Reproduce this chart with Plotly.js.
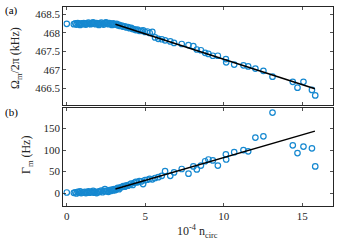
<!DOCTYPE html>
<html>
<head>
<meta charset="utf-8">
<script src="https://cdn.plot.ly/plotly-3.0.1.min.js"></script>
<style>html,body{margin:0;padding:0;background:#fff;}#plot{width:339px;height:248px;}</style>
</head>
<body>
<div id="plot"></div>
<script>
// n_circ (x 10^-4)
const nCirc = [0, 0.45, 0.55, 0.62, 0.7, 0.78, 0.85, 0.92, 1.0, 1.08, 1.15, 1.22, 1.3, 1.38, 1.45, 1.52, 1.6, 1.68, 1.75, 1.83, 1.9, 1.98, 2.05, 2.12, 2.2, 2.28, 2.35, 2.43, 2.5, 2.58, 2.65, 2.72, 2.8, 2.88, 2.95, 3.02, 3.1, 3.18, 3.25, 3.33, 3.4, 3.5, 3.6, 3.7, 3.8, 3.9, 4.0, 4.1, 4.2, 4.3, 4.4, 4.5, 4.62, 4.74, 4.86, 4.98, 5.13, 5.28, 5.45, 5.62, 5.83, 6.05, 6.26, 6.59, 6.83, 7.32, 7.75, 8.06, 8.28, 8.54, 8.81, 9.02, 9.30, 9.62, 10.13, 10.15, 10.66, 11.25, 11.55, 12.01, 12.52, 13.10, 14.39, 14.69, 15.07, 15.61, 15.82];
// Omega_m / 2pi (kHz)
const omega = [468.25, 468.24, 468.26, 468.23, 468.27, 468.25, 468.22, 468.26, 468.24, 468.27, 468.25, 468.23, 468.26, 468.28, 468.25, 468.24, 468.27, 468.29, 468.26, 468.24, 468.27, 468.25, 468.22, 468.26, 468.28, 468.25, 468.23, 468.27, 468.29, 468.26, 468.24, 468.27, 468.25, 468.22, 468.26, 468.24, 468.23, 468.25, 468.21, 468.22, 468.19, 468.20, 468.17, 468.18, 468.15, 468.16, 468.13, 468.14, 468.11, 468.10, 468.08, 468.09, 468.06, 468.06, 468.07, 468.03, 468.04, 468.00, 468.03, 467.88, 467.84, 467.83, 467.80, 467.77, 467.73, 467.70, 467.67, 467.64, 467.55, 467.53, 467.46, 467.43, 467.38, 467.38, 467.29, 467.20, 467.14, 467.12, 467.09, 467.03, 466.97, 466.81, 466.67, 466.51, 466.67, 466.45, 466.30];
// Gamma_m (Hz)
const gamma = [1.4, 0.5, 2, -1, 3, 1, 4, 0, 2, 1, 3, 0, 2, 4, 1, 3, 2, 5, 1, 3, 0, 2, 4, 3, 6, 2, 5, 9, 4, 6, 3, 7, 5, 8, 6, 9, 7, 10, 12, 9, 13, 14, 16, 15, 18, 17, 20, 22, 19, 24, 26, 25, 28, 27, 21, 30, 31, 33, 32, 35, 37, 40, 51, 40, 48, 56, 45, 62, 55, 64, 74, 78, 76, 64, 90, 78, 95, 100, 97, 129, 132, 187, 111, 93, 108, 104, 62];
// linear fits
const fitX = [3.1, 15.8];
const fitOmega = [468.24, 466.48];
const fitGamma = [9.5, 144];

const blue = '#1588D0';
const marker = {symbol: 'circle-open', size: 5.5, color: blue, line: {width: 1.2, color: blue}};
const traces = [
  {x: nCirc, y: omega, type: 'scatter', mode: 'markers', marker: marker, xaxis: 'x', yaxis: 'y', hoverinfo: 'none'},
  {x: fitX, y: fitOmega, type: 'scatter', mode: 'lines', line: {color: '#000', width: 1.5}, xaxis: 'x', yaxis: 'y'},
  {x: nCirc, y: gamma, type: 'scatter', mode: 'markers', marker: marker, xaxis: 'x2', yaxis: 'y2', hoverinfo: 'none'},
  {x: fitX, y: fitGamma, type: 'scatter', mode: 'lines', line: {color: '#000', width: 1.5}, xaxis: 'x2', yaxis: 'y2'}
];
const W = 339, H = 248;
const fam = 'Liberation Serif, Times New Roman, serif';
const axBase = {showline: true, mirror: 'ticks', ticks: 'inside', ticklen: 3, tickwidth: 0.8, tickcolor: '#262626', linecolor: '#262626', linewidth: 1, showgrid: false, zeroline: false, tickfont: {family: fam, size: 11, color: '#262626'}};
const xd = [63.3 / W, 333.3 / W];
const layout = {
  width: W, height: H, margin: {l: 0, r: 0, t: 0, b: 0}, showlegend: false,
  paper_bgcolor: '#fff', plot_bgcolor: '#fff',
  font: {family: fam, size: 11, color: '#262626'},
  xaxis: Object.assign({}, axBase, {domain: xd, range: [-0.22, 16.97], tickvals: [0, 5, 10, 15], showticklabels: false, anchor: 'y'}),
  yaxis: Object.assign({}, axBase, {domain: [1 - 105.3 / H, 1 - 7.3 / H], range: [466.03, 468.7], tickvals: [466.5, 467, 467.5, 468, 468.5], ticktext: ['466.5', '467', '467.5', '468', '468.5'], anchor: 'x'}),
  xaxis2: Object.assign({}, axBase, {domain: xd, range: [-0.22, 16.97], tickvals: [0, 5, 10, 15], anchor: 'y2'}),
  yaxis2: Object.assign({}, axBase, {domain: [1 - 206 / H, 1 - 108.3 / H], range: [-30, 197], tickvals: [0, 50, 100, 150], anchor: 'x2'}),
  annotations: [
    {text: '(a)', xref: 'paper', yref: 'paper', x: 3 / W, y: 1 - 11 / H, xanchor: 'left', yanchor: 'middle', showarrow: false, font: {family: fam, size: 11, color: '#000'}},
    {text: '(b)', xref: 'paper', yref: 'paper', x: 3 / W, y: 1 - 112 / H, xanchor: 'left', yanchor: 'middle', showarrow: false, font: {family: fam, size: 11, color: '#000'}},
    {text: 'Ω<sub>m</sub>/2π (kHz)', xref: 'paper', yref: 'paper', x: 16 / W, y: 1 - 58 / H, textangle: -90, xanchor: 'center', yanchor: 'middle', showarrow: false, font: {family: fam, size: 12, color: '#262626'}},
    {text: 'Γ<sub>m</sub> (Hz)', xref: 'paper', yref: 'paper', x: 27 / W, y: 1 - 155 / H, textangle: -90, xanchor: 'center', yanchor: 'middle', showarrow: false, font: {family: fam, size: 12, color: '#262626'}},
    {text: '10<sup>-4</sup> n<sub>circ</sub>', xref: 'paper', yref: 'paper', x: 197 / W, y: 1 - 231 / H, xanchor: 'center', yanchor: 'middle', showarrow: false, font: {family: fam, size: 12, color: '#262626'}}
  ]
};
Plotly.newPlot('plot', traces, layout, {staticPlot: true, displayModeBar: false});
</script>
</body>
</html>
